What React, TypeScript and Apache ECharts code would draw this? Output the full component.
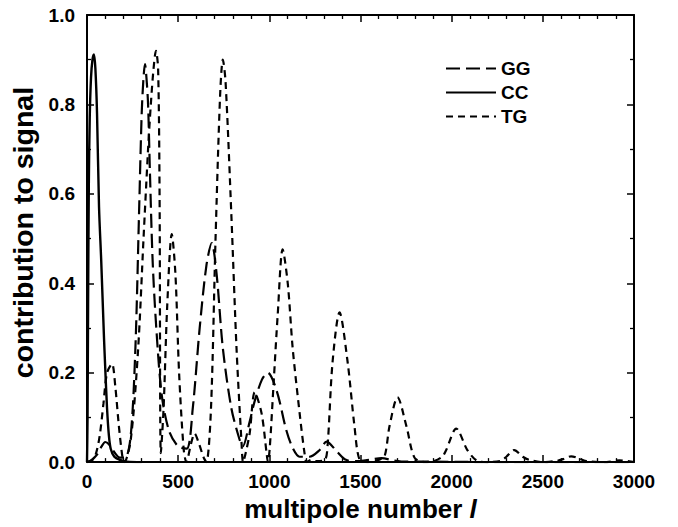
import React, { useEffect, useRef } from "react";
import * as echarts from "echarts";

// multipole l and contribution values
const ccL = [0, 3, 6, 10, 15, 22, 30, 38, 46, 55, 66, 78, 93, 99, 110, 120, 130, 150, 180, 220, 300];
const ccV = [0, 0.1, 0.35, 0.62, 0.77, 0.86, 0.9, 0.912, 0.88, 0.78, 0.57, 0.45, 0.28, 0.22, 0.12, 0.06, 0.03, 0.012, 0.005, 0.001, 0];

const ggL = [0, 20, 40, 60, 80, 100, 120, 150, 180, 210, 240, 265, 285, 300, 310, 318, 326, 335, 345, 360, 380, 410, 450, 500, 547, 580, 618, 655, 684, 711, 745, 792, 837, 854, 892, 920, 960, 991, 1040, 1094, 1130, 1166, 1220, 1276, 1314, 1370, 1420, 1480, 1560, 1615, 1680, 1750, 1900, 2200, 3000];
const ggV = [0, 0.003, 0.01, 0.02, 0.035, 0.045, 0.04, 0.022, 0.01, 0.01, 0.06, 0.25, 0.55, 0.78, 0.86, 0.89, 0.86, 0.8, 0.65, 0.45, 0.3, 0.15, 0.07, 0.035, 0.03, 0.12, 0.3, 0.44, 0.49, 0.42, 0.255, 0.12, 0.05, 0.035, 0.09, 0.137, 0.185, 0.2, 0.16, 0.07, 0.03, 0.012, 0.012, 0.027, 0.046, 0.024, 0.005, 0.002, 0.006, 0.009, 0.004, 0.001, 0.001, 0, 0];

const tgL = [0, 30, 50, 70, 90, 110, 137, 155, 175, 195, 205, 240, 280, 310, 335, 350, 365, 378, 390, 398, 405, 420, 440, 465, 485, 505, 530, 545, 570, 590, 615, 640, 655, 680, 705, 730, 745, 760, 792, 820, 848, 856, 870, 892, 920, 957, 985, 992, 1002, 1024, 1046, 1073, 1101, 1128, 1166, 1193, 1205, 1230, 1260, 1305, 1320, 1347, 1385, 1429, 1467, 1495, 1540, 1600, 1632, 1659, 1703, 1752, 1796, 1850, 1900, 1948, 1970, 2025, 2086, 2140, 2200, 2270, 2300, 2343, 2390, 2425, 2500, 2580, 2620, 2655, 2700, 2740, 2850, 2920, 3000];
const tgV = [0, 0.005, 0.02, 0.06, 0.13, 0.2, 0.22, 0.17, 0.08, 0.01, 0, 0.05, 0.25, 0.5, 0.7, 0.8, 0.88, 0.92, 0.88, 0.6, 0.02, 0.12, 0.35, 0.51, 0.42, 0.2, 0.03, 0, 0.04, 0.064, 0.04, 0.01, 0, 0.12, 0.5, 0.82, 0.9, 0.85, 0.55, 0.255, 0.04, 0, 0.02, 0.064, 0.156, 0.11, 0.02, 0, 0.03, 0.18, 0.33, 0.476, 0.4, 0.255, 0.11, 0.02, 0, 0.005, 0.002, 0.005, 0.04, 0.225, 0.335, 0.225, 0.08, 0.005, 0, 0.005, 0.013, 0.08, 0.145, 0.08, 0.01, 0, 0.002, 0.012, 0.027, 0.075, 0.027, 0.003, 0, 0.003, 0.012, 0.027, 0.012, 0.005, 0, 0.003, 0.008, 0.013, 0.008, 0.002, 0, 0.004, 0];

const xTicks = [0, 500, 1000, 1500, 2000, 2500, 3000];
const legendNames = ["GG", "CC", "TG"];

const zip = (xs: number[], ys: number[]) => xs.map((x, i) => [x, ys[i]]);

const FONT = "'Liberation Sans', Arial, Helvetica, sans-serif";

const mkTick = () => ({ show: true, inside: true, length: 7, lineStyle: { color: "#000", width: 1.5 } });
const mkLine = () => ({ show: true, onZero: false, lineStyle: { color: "#000", width: 2 } });
const mkMinor = (n: number) => ({ show: true, splitNumber: n, length: 4, lineStyle: { color: "#000", width: 1.3 } });

export default function App() {
  const ref = useRef<HTMLDivElement>(null);
  useEffect(() => {
    if (!ref.current) return;
    const chart = echarts.init(ref.current, undefined, { renderer: "svg" });
    const labelStyle = { fontFamily: FONT, fontWeight: "bold", fontSize: 19, color: "#000" };
    chart.setOption({
      animation: false,
      backgroundColor: "#fff",
      grid: { left: 87, right: 44, top: 15, bottom: 58 },
      legend: {
        left: 445,
        top: 59,
        padding: 0,
        orient: "vertical",
        itemWidth: 50,
        itemHeight: 14,
        itemGap: 5,
        selectedMode: false,
        data: legendNames,
        itemStyle: { opacity: 0, borderWidth: 0 },
        textStyle: { fontFamily: FONT, fontWeight: "bold", fontSize: 19, color: "#000" },
      },
      xAxis: [
        {
          type: "value",
          min: 0,
          max: 3000,
          interval: 500,
          axisLine: mkLine(),
          axisTick: mkTick(),
          minorTick: mkMinor(5),
          splitLine: { show: false },
          axisLabel: {
            ...labelStyle,
            margin: 10,
            formatter: (v: number) => (xTicks.includes(v) ? String(v) : ""),
          },
          name: "multipole number {i|l}",
          nameLocation: "middle",
          nameGap: 28,
          nameTextStyle: {
            fontFamily: FONT,
            fontWeight: "bold",
            fontSize: 26,
            color: "#000",
            rich: { i: { fontFamily: FONT, fontWeight: "bold", fontStyle: "italic", fontSize: 26, color: "#000" } },
          },
        },
        {
          type: "value",
          position: "top",
          min: 0,
          max: 3000,
          interval: 500,
          axisLine: mkLine(),
          axisTick: mkTick(),
          minorTick: mkMinor(5),
          splitLine: { show: false },
          axisLabel: { show: false },
        },
      ],
      yAxis: [
        {
          type: "value",
          min: 0,
          max: 1,
          interval: 0.2,
          axisLine: mkLine(),
          axisTick: mkTick(),
          minorTick: mkMinor(2),
          splitLine: { show: false },
          axisLabel: {
            ...labelStyle,
            margin: 12,
            formatter: (v: number) => v.toFixed(1),
          },
          name: "contribution to signal",
          nameLocation: "middle",
          nameGap: 41,
          nameTextStyle: { fontFamily: FONT, fontWeight: "bold", fontSize: 28.5, color: "#000", padding: [0, 0, 0, 12] },
        },
        {
          type: "value",
          position: "right",
          min: 0,
          max: 1,
          interval: 0.2,
          axisLine: mkLine(),
          axisTick: mkTick(),
          minorTick: mkMinor(2),
          splitLine: { show: false },
          axisLabel: { show: false },
        },
      ],
      series: [
        {
          name: "GG",
          type: "line",
          data: zip(ggL, ggV),
          showSymbol: false,
          symbol: "none",
          smooth: 0.3,
          itemStyle: { color: "#000" },
          lineStyle: { color: "#000", width: 2.2, type: [14, 6] },
        },
        {
          name: "CC",
          type: "line",
          data: zip(ccL, ccV),
          showSymbol: false,
          symbol: "none",
          smooth: 0.3,
          itemStyle: { color: "#000" },
          lineStyle: { color: "#000", width: 2.4, type: "solid" },
        },
        {
          name: "TG",
          type: "line",
          data: zip(tgL, tgV),
          showSymbol: false,
          symbol: "none",
          smooth: 0.3,
          itemStyle: { color: "#000" },
          lineStyle: { color: "#000", width: 2.2, type: [7, 5] },
        },
      ],
    });
    return () => chart.dispose();
  }, []);
  return <div ref={ref} style={{ width: 678, height: 527, position: "absolute", left: 0, top: 0 }} />;
}
